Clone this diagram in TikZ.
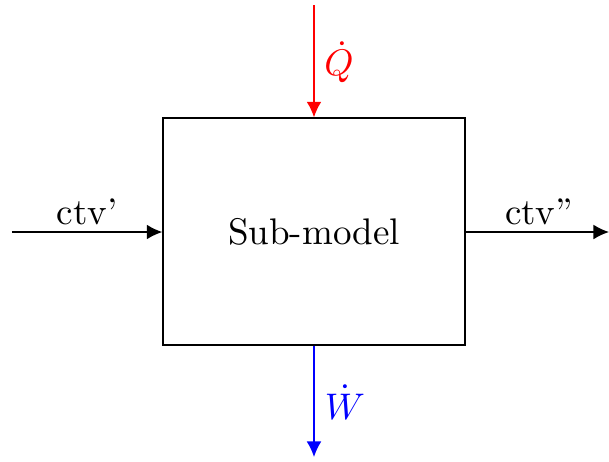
\documentclass[tikz,border=0pt]{standalone}
\usetikzlibrary{arrows.meta}
\begin{document}
\begin{tikzpicture}[x=0.27pt,y=-0.27pt,
  flow/.style={line width=0.4pt,-{Latex[length=4.2pt,width=4pt]}},
  lbl/.style={inner sep=0pt}]
\useasboundingbox (0,0) rectangle (609,461);
\node[draw,line width=0.35pt,minimum width=302*0.27pt,minimum height=227*0.27pt,inner sep=0pt] (box) at (314,231.5) {Sub-model};
\coordinate (lin) at (12,232);
\coordinate (rout) at (609,232);
\coordinate (tin) at (314,5);
\coordinate (bout) at (314,457);
\draw[flow] (lin) -- (box.west|-lin);
\draw[flow] (box.east|-rout) -- (rout);
\draw[flow,red] (tin) -- (box.north);
\draw[flow,blue] (box.south) -- (bout);
\node[lbl] (l1) at (87,212) {ctv'};
\node[lbl] (l2) at (539,212) {ctv''};
\node[lbl,red] (q) at (339,62) {$\dot{Q}$};
\node[lbl,blue] (w) at (345,402) {$\dot{W}$};
\end{tikzpicture}
\end{document}
